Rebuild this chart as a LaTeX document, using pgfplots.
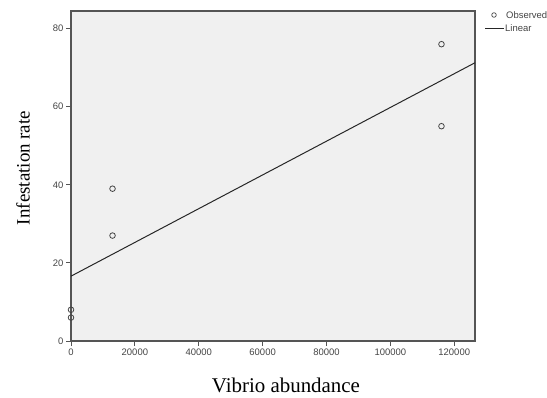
\documentclass[border=0pt]{standalone}
\usepackage{pgfplots}
\pgfplotsset{compat=1.18}
\usepackage{fontspec}
\setmainfont{Liberation Serif}
\newfontfamily\arialf{Liberation Sans}
\definecolor{bg}{HTML}{F0F0F0}
\definecolor{ax}{HTML}{555555}
\definecolor{tk}{HTML}{444444}
\begin{document}
\begin{tikzpicture}
\path[use as bounding box] (0,0) rectangle (547bp,398bp);
\begin{axis}[
  at={(71bp,57bp)}, anchor=south west,
  scale only axis, width=404bp, height=330bp,
  xmin=0, xmax=126500, ymin=0, ymax=84.5,
  axis background/.style={fill=bg},
  axis line style={ax, line width=1.2pt},
  xtick={0,20000,...,120000}, ytick={0,20,...,80},
  tick align=outside, tick pos=left,
  major tick length=5bp,
  tick style={ax, line width=0.9pt},
  scaled x ticks=false,
  xticklabel style={/pgf/number format/fixed, /pgf/number format/1000 sep={}},
  /pgf/number format/assume math mode=true,
  ticklabel style={font=\arialf\fontsize{9.5}{10}\selectfont, text=tk},
  xticklabel style={yshift=1bp},
  yticklabel style={xshift=1bp},
  clip=false,
]
\addplot[only marks, mark=o, mark size=2.8bp, draw=tk, line width=0.8pt] coordinates {
  (0,8) (0,6) (13000,39) (13000,27) (116000,76) (116000,55)
};
\addplot[black!85, line width=1pt] coordinates {(0,16.6) (126500,71.25)};
\end{axis}
% legend
\draw[tk, line width=0.7pt] (494bp,383bp) circle (2.3bp);
\node[anchor=west, font=\arialf\fontsize{9.5}{10}\selectfont, text=tk, inner sep=0pt] at (506bp,382.5bp) {Observed};
\draw[black!85, line width=0.9pt] (485bp,370bp) -- (504bp,370bp);
\node[anchor=west, font=\arialf\fontsize{9.5}{10}\selectfont, text=tk, inner sep=0pt] at (505bp,369.5bp) {Linear};
% axis titles
\node[rotate=90, font=\fontsize{19}{22}\selectfont] at (23bp,230bp) {Infestation rate};
\node[font=\fontsize{21}{24}\selectfont] at (286bp,13bp) {Vibrio abundance};
\end{tikzpicture}
\end{document}
